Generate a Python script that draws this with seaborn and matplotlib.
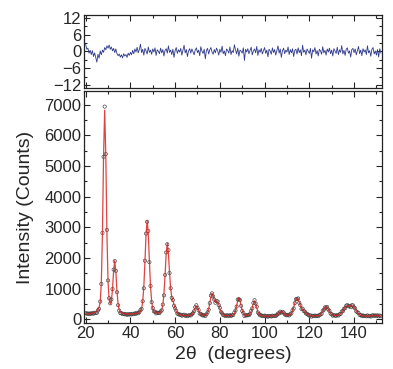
import numpy as np
import matplotlib
matplotlib.use("Agg")
import matplotlib.pyplot as plt
from matplotlib.ticker import MultipleLocator
import seaborn as sns

# ── Data (2-theta grid in 0.5 degree steps) ──────────────────────────
two_theta = np.arange(20.0, 152.01, 0.5)

calc = [
    170, 172, 176, 180, 186, 193, 201, 211, 222, 244,
    275, 310, 388, 575, 1195, 2793, 5325, 6825, 5350, 2811,
    1227, 631, 502, 606, 980, 1578, 1917, 1546, 910, 494,
    301, 236, 217, 201, 192, 184, 179, 177, 175, 174,
    174, 174, 176, 178, 181, 186, 194, 204, 221, 256,
    347, 569, 1056, 1864, 2785, 3230, 2797, 1878, 1071, 586,
    352, 262, 229, 215, 209, 208, 214, 237, 302, 466,
    827, 1432, 2134, 2479, 2164, 1522, 998, 730, 608, 488,
    357, 256, 196, 164, 149, 140, 135, 129, 126, 123,
    123, 122, 123, 125, 133, 155, 203, 287, 381, 431,
    385, 291, 207, 159, 138, 131, 131, 138, 157, 209,
    330, 516, 735, 852, 775, 627, 554, 566, 575, 493,
    360, 246, 176, 145, 128, 124, 120, 119, 119, 121,
    122, 129, 145, 188, 279, 435, 615, 701, 616, 437,
    282, 188, 146, 130, 127, 130, 141, 174, 252, 382,
    529, 601, 528, 379, 247, 168, 133, 118, 112, 108,
    107, 104, 104, 103, 103, 102, 103, 106, 108, 112,
    120, 136, 164, 199, 236, 253, 238, 203, 168, 144,
    132, 129, 138, 159, 204, 279, 389, 519, 634, 687,
    649, 551, 445, 363, 311, 275, 242, 206, 170, 145,
    129, 118, 114, 111, 111, 109, 111, 113, 119, 131,
    153, 194, 252, 321, 382, 408, 383, 323, 255, 198,
    158, 137, 126, 122, 122, 126, 137, 155, 183, 225,
    278, 337, 391, 426, 438, 437, 433, 439, 442, 432,
    396, 342, 280, 225, 182, 152, 132, 121, 115, 111,
    109, 108, 106, 106, 107, 108, 113, 118, 122, 125,
    127, 122, 118, 112, 105,
]

observed = [
    203, 182, 192, 172, 192, 178, 205, 184, 215, 209,
    212, 292, 341, 580, 1153, 2819, 5303, 6941, 5394, 2917,
    1269, 689, 520, 645, 986, 1622, 1899, 1581, 886, 461,
    285, 205, 199, 168, 181, 162, 164, 149, 167, 156,
    170, 158, 181, 167, 193, 183, 215, 197, 231, 298,
    340, 588, 1014, 1912, 2796, 3179, 2882, 1865, 1087, 562,
    369, 259, 249, 194, 218, 209, 202, 255, 293, 481,
    781, 1447, 2180, 2449, 2257, 1510, 1014, 700, 628, 442,
    363, 278, 186, 172, 147, 153, 120, 134, 151, 117,
    131, 102, 125, 136, 126, 166, 202, 267, 393, 458,
    377, 300, 185, 180, 139, 123, 140, 108, 162, 225,
    314, 530, 773, 846, 747, 645, 542, 595, 582, 464,
    375, 241, 201, 135, 130, 107, 130, 123, 112, 139,
    110, 132, 140, 221, 289, 416, 645, 656, 628, 439,
    272, 206, 107, 139, 125, 141, 132, 179, 276, 359,
    534, 623, 517, 414, 225, 176, 130, 130, 102, 111,
    121, 97, 109, 84, 111, 104, 93, 119, 104, 119,
    106, 141, 190, 191, 250, 220, 243, 220, 158, 150,
    130, 147, 125, 168, 197, 296, 354, 528, 654, 663,
    682, 542, 458, 335, 350, 270, 250, 189, 182, 146,
    121, 130, 88, 117, 110, 124, 102, 116, 102, 140,
    155, 180, 279, 312, 390, 382, 401, 319, 274, 187,
    164, 118, 137, 123, 114, 143, 124, 162, 179, 257,
    263, 344, 363, 442, 465, 424, 437, 397, 457, 455,
    388, 359, 260, 230, 206, 142, 138, 105, 126, 109,
    115, 97, 127, 101, 110, 90, 121, 133, 112, 127,
    112, 130, 96, 123, 99,
]

residual = [
    2.5, 0.8, 1.2, -0.6, 0.4, -1.1, 0.3, -1.8, -0.5, -2.2,
    -3.8, -1.0, -2.4, 0.2, -1.2, 0.5, -0.3, 1.4, 0.6, 2.0,
    1.2, 2.3, 0.8, 1.6, 0.2, 1.1, -0.4, 0.9, -0.8, -1.5,
    -0.9, -2.0, -1.2, -2.3, -0.8, -1.6, -1.1, -2.1, -0.6, -1.4,
    -0.3, -1.2, 0.4, -0.8, 0.9, -0.2, 1.5, -0.5, 0.7, 2.6,
    -0.4, 0.8, -1.3, 1.1, 0.2, -0.9, 1.6, -0.3, 0.5, -1.0,
    0.9, -0.2, 1.3, -1.4, 0.6, 0.1, -0.8, 1.2, -0.5, 0.7,
    -1.6, 0.4, 1.0, -0.6, 2.0, -0.3, 0.5, -1.1, 0.8, -2.1,
    0.3, 1.4, -0.7, 0.6, -0.2, 1.1, -1.3, 0.4, 2.2, -0.5,
    0.7, -1.8, 0.2, 1.0, -0.6, 0.9, -0.1, -1.2, 0.6, 1.3,
    -0.4, 0.5, -1.5, 1.7, 0.1, -0.7, 0.8, -2.6, 0.4, 1.1,
    -0.9, 0.6, 1.4, -0.2, -1.0, 0.7, -0.5, 1.2, 0.3, -1.3,
    0.8, -0.3, 1.9, -0.8, 0.2, -1.5, 0.9, 0.4, -0.6, 1.6,
    -1.1, 0.3, -0.4, 2.4, 0.6, -0.9, 1.2, -1.7, 0.5, 0.1,
    -0.6, 1.3, -3.2, 0.8, -0.2, 1.0, -0.8, 0.4, 1.5, -1.2,
    0.2, 0.9, -0.5, 1.8, -1.4, 0.6, -0.3, 1.1, -0.9, 0.3,
    1.4, -0.7, 0.5, -1.9, 0.8, 0.2, -1.0, 1.3, -0.4, 0.7,
    -1.3, 0.4, 2.0, -0.6, 0.9, -2.1, 0.3, 1.2, -0.8, 0.5,
    -0.2, 1.6, -1.1, 0.7, -0.5, 1.0, -1.8, 0.4, 0.8, -0.9,
    1.3, -0.4, 0.6, -1.5, 2.2, -0.3, 0.5, -1.2, 0.9, 0.1,
    -0.7, 1.1, -2.4, 0.6, -0.1, 1.4, -0.9, 0.3, -1.6, 0.8,
    0.2, -1.0, 1.7, -0.5, 0.4, -1.3, 0.9, -0.2, 1.2, -0.8,
    0.5, -1.6, 1.0, 0.1, -0.7, 1.5, -1.1, 0.6, -0.3, 2.1,
    -0.9, 0.4, -1.4, 0.8, 1.3, -0.6, 0.2, -2.0, 0.7, 1.1,
    -0.4, 0.9, -1.2, 0.3, 1.8, -0.8, 0.5, -1.5, 1.0, -0.2,
    0.6, -1.1, 2.0, -0.5, 0.3, -1.7, 0.8, 1.4, -0.9, 0.2,
    -1.3, 0.7, -2.0, 1.0, -0.6,
]

# ── Style ────────────────────────────────────────────────────────────
sns.set_style("ticks")
plt.rcParams["font.family"] = ["Liberation Sans", "DejaVu Sans"]
plt.rcParams["xtick.direction"] = "in"
plt.rcParams["ytick.direction"] = "in"

RESID_COLOR = "#2e3a8c"
CALC_COLOR = "#d9231f"
OBS_COLOR = "#3a3a3a"

fig = plt.figure(figsize=(3.93, 3.69), dpi=100)
ax_top = fig.add_axes([0.214, 0.7615, 0.758, 0.198])
ax = fig.add_axes([0.214, 0.1247, 0.758, 0.6287])

# ── Residual panel ───────────────────────────────────────────────────
sns.lineplot(x=two_theta, y=residual, ax=ax_top, color=RESID_COLOR,
             linewidth=0.6, estimator=None)
ax_top.set_ylim(-13, 13)
ax_top.yaxis.set_minor_locator(MultipleLocator(3))
ax_top.set_yticks([-12, -6, 0, 6, 12])
ax_top.tick_params(labelbottom=False)

# ── Main panel: observed (circles) + calculated (line) ──────────────
sns.scatterplot(x=two_theta, y=observed, ax=ax, marker="o", s=5.5,
                facecolors="none", edgecolors=OBS_COLOR, linewidths=0.45,
                zorder=2)
sns.lineplot(x=two_theta, y=calc, ax=ax, color=CALC_COLOR, linewidth=0.9,
             alpha=0.85, estimator=None, zorder=3)
ax.set_ylim(-120, 7450)
ax.yaxis.set_major_locator(MultipleLocator(1000))
ax.yaxis.set_minor_locator(MultipleLocator(500))
ax.set_xlabel("2θ  (degrees)", fontsize=14, labelpad=4)
ax.set_ylabel("Intensity (Counts)", fontsize=14, labelpad=7)

for a in (ax_top, ax):
    a.set_xlim(19.3, 152.5)
    a.xaxis.set_major_locator(MultipleLocator(20))
    a.xaxis.set_minor_locator(MultipleLocator(10))
    a.tick_params(which="both", top=True, right=True, width=0.8,
                  labelsize=12, pad=2)
    a.tick_params(which="major", length=4.5)
    a.tick_params(which="minor", length=2.5)
    for s in a.spines.values():
        s.set_linewidth(0.9)
        s.set_color("#222222")

fig.savefig("out.png", dpi=100)
